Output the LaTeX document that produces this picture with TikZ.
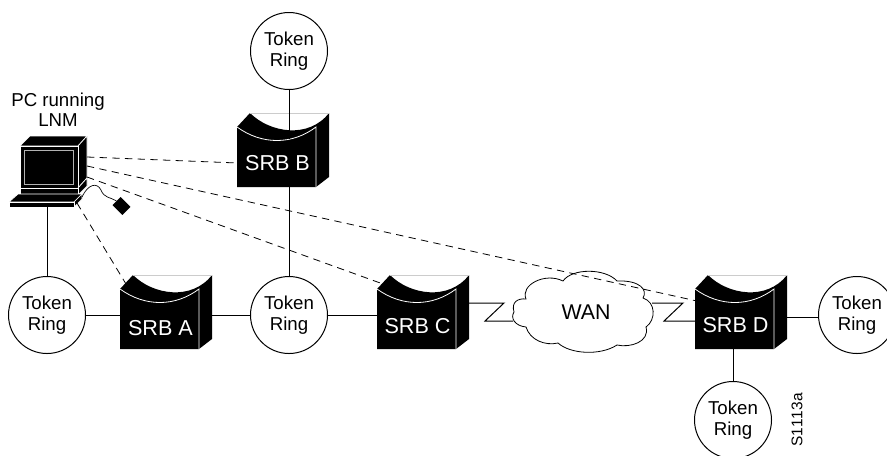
\documentclass[tikz,border=0pt]{standalone}
\usepackage{xcolor}
\usepackage{fontspec}
\setmainfont{Liberation Sans}
\usepackage{tikz}

\tikzset{
    ring/.style={circle, draw, line width=0.75pt, inner sep=0pt, minimum size=57.75pt, align=center,
        font=\fontsize{14}{16.25}\selectfont},
    srbbox/.style={inner sep=0pt, minimum width=59.25pt, minimum height=36pt, text=white,
        font=\fontsize{16.2}{18}\selectfont},
    link/.style={line width=0.75pt},
    mgmt/.style={line width=0.6pt, dash pattern=on 5.5pt off 4pt},
    pcedge/.style={fill=black, draw=white, line width=0.5pt}
}

% body of a router, origin at the top left corner of its front face
\newcommand{\srb}[4][]{
    \begin{scope}[shift={(#3)}]
        \fill (0,0) -- (13,-14) .. controls (33,6) and (72,12) .. (92,-14) -- (92,50) -- (79,60) -- (0,60) -- cycle;
        \draw[gray!40, line width=0.5pt] (13,-14) -- (92,-14);
        \draw[white, line width=0.6pt] (0,0) .. controls (25,18) and (55,18) .. (79,0) -- (79,60);
        \node[srbbox, #1] (#2) at (40.5,36) {#4};
        \coordinate (#2k) at (6,-5);
        \coordinate (#2s) at (92,14);
    \end{scope}
}

\begin{document}
\begin{tikzpicture}[x=0.75pt, y=-0.75pt]
    \useasboundingbox (0,0) rectangle (887,455);

    % Rings
    \node[ring] (ringt) at (289,51) {Token\\Ring};
    \node[ring] (ringl) at (47,315) {Token\\Ring};
    \node[ring] (ringm) at (289,315) {Token\\Ring};
    \node[ring] (ringr) at (857,315) {Token\\Ring};
    \node[ring] (ringf) at (733,420) {Token\\Ring};

    % Routers
    \srb[yshift=-2pt]{srba}{120,289}{SRB A}
    \srb{srbb}{237,127}{SRB B}
    \srb[yshift=-1pt]{srbc}{377,289}{SRB C}
    \srb{srbd}{695,289}{SRB D}

    % PC
    \filldraw[pcedge] (20,146) -- (30,136) -- (87,136) -- (78,146) -- cycle;
    \filldraw[pcedge] (78,146) -- (87,136) -- (87,178) -- (78,188) -- cycle;
    \filldraw[pcedge] (20,146) rectangle (78,188);
    \filldraw[pcedge] (78,188) -- (87,178) -- (87,186) -- (78,195) -- cycle;
    \filldraw[pcedge] (20,188) rectangle (78,194);
    \filldraw[pcedge] (9,202) -- (18,194) -- (82,194) -- (74,202) -- cycle;
    \filldraw[pcedge] (74,202) -- (82,194) -- (82,199) -- (74,207) -- cycle;
    \filldraw[pcedge] (9,202) rectangle (74,207);
    \node[fill=black, draw=gray!60, line width=0.75pt, inner sep=0pt, minimum width=36.75pt, minimum height=25.5pt] (pc) at (48.5,167) {};
    \coordinate (pcb) at (87,157);
    \coordinate (pcd) at (87,166);
    \coordinate (pcc) at (87,177);
    \coordinate (pcm) at (82,197);
    \coordinate (pca) at (77,203);
    \coordinate (pck) at (47,207);
    \node[align=center, font=\fontsize{14}{15}\selectfont] (pclabel) at (58,109.5) {PC running\\LNM};

    % Mouse
    \node[fill=black, rotate=-45, inner sep=0pt, minimum width=10.5pt, minimum height=8.5pt] (mouse) at (121.5,206) {};
    \draw[line width=0.5pt] (pcm) .. controls (88,184) and (97,182) .. (101,190) .. controls (104,198) and (110,197) .. (mouse.west);

    % Cloud
    \draw[fill=white, line width=0.6pt] (514,312) .. controls (511,302) and (518,298) .. (526,299)
        .. controls (520,285) and (545,272) .. (563,281)
        .. controls (572,268) and (605,268) .. (617,281)
        .. controls (640,280) and (648,290) .. (643,298)
        .. controls (656,302) and (656,320) .. (646,327)
        .. controls (650,342) and (630,348) .. (617,345)
        .. controls (600,356) and (570,354) .. (558,343)
        .. controls (545,346) and (530,340) .. (526,327)
        .. controls (515,326) and (510,318) .. (514,312) -- cycle;
    \node[font=\fontsize{16}{18}\selectfont] (wan) at (586,312) {WAN};
    \coordinate (wanw) at (513,321);
    \coordinate (wane) at (652,303);

    % Links
    \draw[link] (ringt.south) -- (ringt.south |- srbb.north);
    \draw[link] (ringm.north) -- (ringm.north |- srbb.south);
    \draw[link] (ringl.north) -- (pck);
    \draw[link] (ringl.east) -- (ringl.east -| srba.west);
    \draw[link] (ringm.west) -- (ringm.west -| srbas);
    \draw[link] (ringm.east) -- (ringm.east -| srbc.west);
    \draw[link] ([yshift=-1.5pt]ringr.west) -- ([yshift=-1.5pt]ringr.west -| srbds);
    \draw[link] (ringf.north) -- (ringf.north |- srbd.south);

    % Serial lines
    \draw[link] (srbcs) -- ++(35,0) -- ++(-19,18) -- (wanw);
    \draw[link] (wane) -- ++(31,0) -- ++(-19,18) coordinate (zagd) -- (zagd -| srbd.west);

    % Management sessions
    \draw[mgmt] (pcb) -- (srbb.west);
    \draw[mgmt] (pcd) -- (srbd.north west);
    \draw[mgmt] (pcc) -- (srbck);
    \draw[mgmt] (pca) -- (srbak);

    % Figure number
    \node[rotate=90, font=\fontsize{11.6}{14}\selectfont\addfontfeatures{Kerning=Off}] (figno) at (797,420) {S1113a};
\end{tikzpicture}
\end{document}
